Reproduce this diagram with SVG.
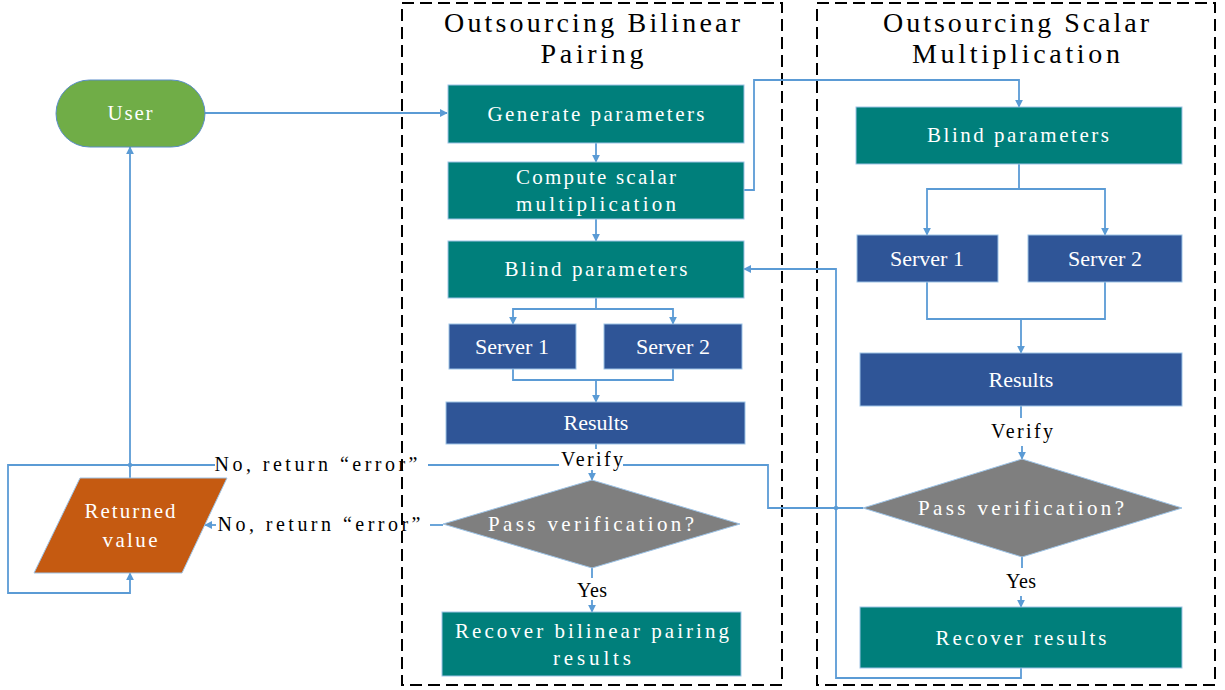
<svg xmlns="http://www.w3.org/2000/svg" width="1225" height="690" viewBox="0 0 1225 690">
<style>
  .frame { fill: none; stroke: #000; stroke-width: 2; stroke-dasharray: 12 6; }
  .teal { fill: #007F7B; stroke: #9DC3E6; stroke-width: 1; }
  .blue { fill: #2F5597; stroke: #9DC3E6; stroke-width: 1; }
  .gray { fill: #7F7F7F; stroke: #9DC3E6; stroke-width: 1; }
  .green { fill: #70AD47; stroke: #5B8DC8; stroke-width: 1; }
  .orange { fill: #C55A11; stroke: #9DC3E6; stroke-width: 1; }
  .m { font-family: "Liberation Serif", "Times New Roman", serif; font-size: 21px; text-anchor: middle; }
  .t { font-family: "Liberation Serif", "Times New Roman", serif; font-size: 28px; text-anchor: middle; fill: #000; }
  .s { font-family: "Liberation Serif", "Times New Roman", serif; font-size: 22px; text-anchor: middle; fill: #fff; }
  .w { fill: #fff; }
  .k { fill: #000; font-size: 20px; }
  .c { fill: none; stroke: #5B9BD5; stroke-width: 1.8; }
  .ca { fill: none; stroke: #5B9BD5; stroke-width: 1.8; marker-end: url(#ah); }
</style>
<defs>
  <marker id="ah" viewBox="0 0 10 10" refX="9" refY="5" markerWidth="8" markerHeight="8" markerUnits="userSpaceOnUse" orient="auto">
    <path d="M0,0 L10,5 L0,10 z" fill="#5B9BD5"/>
  </marker>
</defs>
<rect width="1225" height="690" fill="#fff"/>

<g id="frame-bilinear">
  <rect class="frame" x="402" y="3" width="380" height="682"/>
  <text class="t" x="592" y="32" textLength="296" lengthAdjust="spacing">Outsourcing Bilinear</text>
  <text class="t" x="592" y="63" textLength="103" lengthAdjust="spacing">Pairing</text>
</g>
<g id="frame-scalar">
  <rect class="frame" x="817" y="3" width="398" height="682"/>
  <text class="t" x="1016" y="32" textLength="266" lengthAdjust="spacing">Outsourcing Scalar</text>
  <text class="t" x="1016" y="63" textLength="208" lengthAdjust="spacing">Multiplication</text>
</g>

<g id="connectors">
  <path class="ca" d="M205,113 H447"/>
  <path class="ca" d="M596,143 V162"/>
  <path class="ca" d="M596,219 V241"/>
  <path class="ca" d="M744,190 H754 V80 H1019 V107"/>
  <path class="ca" d="M596,298 V309 H513 V324"/>
  <path class="ca" d="M596,309 H673 V324"/>
  <path class="c" d="M513,369 V380 H673 V369"/>
  <path class="ca" d="M596,380 V402"/>
  <path class="c" d="M596,444 V449"/>
  <path class="ca" d="M592,470 V480"/>
  <path class="c" d="M592,568 V578"/>
  <path class="ca" d="M592,600 V612"/>
  <path class="c" d="M443,525 H430"/>
  <path class="ca" d="M216,525 H205"/>
  <path class="ca" d="M1019,164 V189 H927 V235"/>
  <path class="ca" d="M1019,189 H1105 V235"/>
  <path class="c" d="M927,282 V319 H1105 V282"/>
  <path class="ca" d="M1021,319 V353"/>
  <path class="c" d="M1021,406 V418"/>
  <path class="ca" d="M1022,446 V459"/>
  <path class="c" d="M1022,557 V568"/>
  <path class="ca" d="M1021,596 V607"/>
  <path class="ca" d="M1021,668 V678 H836 V269 H744"/>
  <path class="c" d="M863,508 H768 V465 H623"/>
  <path class="c" d="M559,465 H428"/>
  <path class="ca" d="M215,465 H8 V593 H130 V573"/>
  <path class="ca" d="M130,478 V147"/>
  <circle cx="836" cy="508" r="2.2" fill="#5B9BD5"/>
  <circle cx="130" cy="465" r="2.2" fill="#5B9BD5"/>
  <text class="m k" x="592" y="466" textLength="62" lengthAdjust="spacing">Verify</text>
  <text class="m k" x="592" y="597" textLength="30" lengthAdjust="spacing">Yes</text>
  <text class="m k" x="1022" y="438" textLength="62" lengthAdjust="spacing">Verify</text>
  <text class="m k" x="1021" y="588" textLength="30" lengthAdjust="spacing">Yes</text>
  <text class="m k" x="316" y="471" textLength="203" lengthAdjust="spacing">No, return “error”</text>
  <text class="m k" x="319" y="531" textLength="203" lengthAdjust="spacing">No, return “error”</text>
</g>

<g id="user">
  <rect class="green" x="56" y="80" width="149" height="67" rx="33.5" ry="33.5"/>
  <text class="m w" x="130" y="120" textLength="45" lengthAdjust="spacing">User</text>
</g>
<g id="returned-value">
  <polygon class="orange" points="80,478 227,478 182,573 34,573"/>
  <text class="m w" x="130" y="518" textLength="91" lengthAdjust="spacing">Returned</text>
  <text class="m w" x="130" y="547" textLength="55" lengthAdjust="spacing">value</text>
</g>

<g id="generate-parameters">
  <rect class="teal" x="448" y="85" width="296" height="58"/>
  <text class="m w" x="596" y="121" textLength="217" lengthAdjust="spacing">Generate parameters</text>
</g>
<g id="compute-scalar">
  <rect class="teal" x="448" y="162" width="296" height="57"/>
  <text class="m w" x="596" y="184" textLength="160" lengthAdjust="spacing">Compute scalar</text>
  <text class="m w" x="596" y="211" textLength="160" lengthAdjust="spacing">multiplication</text>
</g>
<g id="blind-parameters-left">
  <rect class="teal" x="448" y="241" width="296" height="57"/>
  <text class="m w" x="596" y="276" textLength="183" lengthAdjust="spacing">Blind parameters</text>
</g>
<g id="server1-left">
  <rect class="blue" x="449" y="324" width="127" height="45"/>
  <text class="s" x="512" y="354">Server 1</text>
</g>
<g id="server2-left">
  <rect class="blue" x="604" y="324" width="138" height="45"/>
  <text class="s" x="673" y="354">Server 2</text>
</g>
<g id="results-left">
  <rect class="blue" x="446" y="402" width="299" height="42"/>
  <text class="s" x="596" y="430">Results</text>
</g>
<g id="verify-left">
  <polygon class="gray" points="592,480 740,524 592,568 443,524"/>
  <text class="m w" x="591" y="531" textLength="206" lengthAdjust="spacing">Pass verification?</text>
</g>
<g id="recover-bilinear">
  <rect class="teal" x="442" y="612" width="299" height="64"/>
  <text class="m w" x="592" y="638" textLength="274" lengthAdjust="spacing">Recover bilinear pairing</text>
  <text class="m w" x="592" y="665" textLength="78" lengthAdjust="spacing">results</text>
</g>

<g id="blind-parameters-right">
  <rect class="teal" x="856" y="107" width="326" height="57"/>
  <text class="m w" x="1018" y="142" textLength="182" lengthAdjust="spacing">Blind parameters</text>
</g>
<g id="server1-right">
  <rect class="blue" x="857" y="235" width="141" height="47"/>
  <text class="s" x="927" y="266">Server 1</text>
</g>
<g id="server2-right">
  <rect class="blue" x="1028" y="235" width="154" height="47"/>
  <text class="s" x="1105" y="266">Server 2</text>
</g>
<g id="results-right">
  <rect class="blue" x="860" y="353" width="322" height="53"/>
  <text class="s" x="1021" y="387">Results</text>
</g>
<g id="verify-right">
  <polygon class="gray" points="1022,459 1182,508 1022,557 863,508"/>
  <text class="m w" x="1021" y="515" textLength="206" lengthAdjust="spacing">Pass verification?</text>
</g>
<g id="recover-results">
  <rect class="teal" x="860" y="607" width="322" height="61"/>
  <text class="m w" x="1021" y="645" textLength="171" lengthAdjust="spacing">Recover results</text>
</g>
</svg>
